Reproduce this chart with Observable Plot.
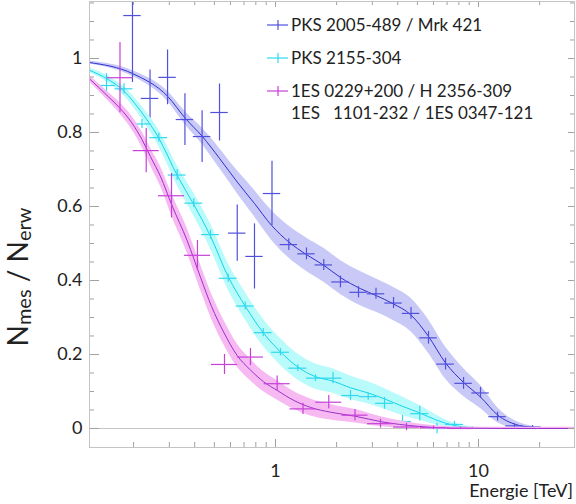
<!DOCTYPE html>
<html><head><meta charset="utf-8">
<script src="https://cdn.jsdelivr.net/npm/d3@7"></script>
<script src="https://cdn.jsdelivr.net/npm/@observablehq/plot@0.6"></script>
<style>body{margin:0;background:#fff} svg{display:block}</style>
</head><body><div id="chart"></div>
<script>
// ---- Data: PKS 2005-489 / Mrk 421 (blue) ----
const blueE   = [0.1975,0.241,0.294,0.358,0.435,0.530,0.648,0.788,0.961,1.163,1.421,1.729,2.089,2.564,3.126,3.814,4.651,5.671,6.88,8.44,10.23,12.41,15.04,18.45];
const blueV   = [1.116,0.892,0.949,0.835,0.789,0.854,0.528,0.465,0.635,0.497,0.472,0.442,0.396,0.368,0.364,0.339,0.311,0.245,0.174,0.122,0.096,0.032,0.007,0.004];
const blueErr = [0.181,0.077,0.074,0.070,0.070,0.077,0.076,0.088,0.087,0.016,0.016,0.015,0.016,0.015,0.015,0.015,0.016,0.017,0.016,0.016,0.015,0.012,0.006,0.004];
const blueFitE = [0.1213,0.198,0.295,0.360,0.435,0.530,0.648,0.788,0.956,1.163,1.42,1.73,2.09,2.62,3.14,3.80,4.62,5.65,6.88,8.42,10.23,12.5,15.2,18.4,20.5];
const blueFitV = [0.989,0.959,0.897,0.838,0.790,0.730,0.666,0.608,0.549,0.504,0.470,0.441,0.408,0.378,0.359,0.337,0.308,0.250,0.177,0.125,0.085,0.035,0.011,0.003,0.0];
const blueFitW = [0.004,0.008,0.014,0.018,0.022,0.027,0.031,0.036,0.040,0.043,0.045,0.046,0.046,0.046,0.045,0.045,0.045,0.045,0.043,0.038,0.031,0.020,0.009,0.003,0.0];

// ---- Data: PKS 2155-304 (cyan) ----
const cyanE   = [0.1471,0.1794,0.2200,0.2662,0.3279,0.3959,0.4784,0.5848,0.7090,0.8700,1.058,1.288,1.574,1.920,2.342,2.862,3.443,4.224,5.138,6.246,7.617,9.311];
const cyanV   = [0.927,0.918,0.823,0.786,0.685,0.609,0.524,0.406,0.331,0.259,0.206,0.163,0.136,0.136,0.089,0.086,0.068,0.019,0.040,0.000,0.011,0.001];
const cyanErr = [0.032,0.014,0.012,0.012,0.014,0.012,0.012,0.011,0.011,0.011,0.010,0.009,0.009,0.015,0.014,0.010,0.016,0.016,0.020,0.014,0.008,0.004];
const cyanFitE = [0.1213,0.147,0.179,0.220,0.266,0.328,0.396,0.478,0.585,0.709,0.870,1.058,1.288,1.574,1.92,2.34,2.86,3.44,4.22,5.14,6.25,7.62,9.31,12.0];
const cyanFitV = [0.968,0.946,0.912,0.853,0.785,0.684,0.605,0.520,0.410,0.331,0.259,0.207,0.166,0.140,0.128,0.110,0.096,0.080,0.060,0.042,0.022,0.008,0.002,0.0];
const cyanFitW = [0.006,0.009,0.012,0.017,0.022,0.027,0.031,0.034,0.036,0.037,0.037,0.036,0.035,0.034,0.033,0.032,0.030,0.028,0.025,0.020,0.013,0.006,0.002,0.0];

// ---- Data: 1ES 0229+200 / H 2356-309 / 1ES 1101-232 / 1ES 0347-121 (magenta) ----
const magE   = [0.1714,0.2308,0.3075,0.4127,0.5607,0.7529,1.019,1.366,1.830,2.464,3.290,4.419,6.002,8.152];
const magV   = [0.948,0.751,0.629,0.468,0.173,0.193,0.121,0.053,0.071,0.036,0.013,0.004,0.002,0.000];
const magErr = [0.095,0.060,0.060,0.040,0.027,0.023,0.021,0.015,0.018,0.015,0.012,0.010,0.005,0.003];
const magFitE = [0.1213,0.150,0.171,0.196,0.220,0.242,0.272,0.309,0.367,0.427,0.484,0.556,0.648,0.753,0.875,1.019,1.23,1.487,1.866,2.476,3.34,4.99,7.28,12.8,29.7];
const magFitV = [0.945,0.897,0.866,0.826,0.781,0.735,0.680,0.603,0.508,0.409,0.330,0.260,0.197,0.158,0.126,0.103,0.076,0.057,0.044,0.033,0.018,0.006,0.001,0.0,0.0];
const magFitW = [0.008,0.012,0.015,0.018,0.021,0.024,0.027,0.030,0.033,0.034,0.034,0.033,0.031,0.029,0.027,0.026,0.024,0.023,0.021,0.018,0.013,0.007,0.004,0.003,0.003];

// half bin widths (decades)
const binHalf = {blue: 0.043, cyan: 0.044, mag: 0.064};

// ---- Axis ticks ----
const xLabelTicks = [1, 10];
const xMinorTicks = [0.2,0.3,0.4,0.5,0.6,0.7,0.8,0.9,2,3,4,5,6,7,8,9,20];
const yLabelTicks = [0, 0.2, 0.4, 0.6, 0.8, 1];
const yMinorTicks = [0.05,0.1,0.15,0.25,0.3,0.35,0.45,0.5,0.55,0.65,0.7,0.75,0.85,0.9,0.95,1.05,1.1,1.15];

const legendLabels = ["PKS 2005-489 / Mrk 421", "PKS 2155-304", "1ES 0229+200 / H 2356-309", "1ES   1101-232 / 1ES 0347-121"];

const W = 576, H = 504, mL = 89, mR = 2, mT = 1, mB = 57;
const innerW = W - mL - mR, innerH = H - mT - mB;

const pts = (E, V, D, h) => E.map((e, i) => ({e, v: V[i], d: D[i], lo: e / 10 ** h, hi: e * 10 ** h}));
const fit = (E, V, Wd) => E.map((e, i) => ({e, v: V[i], lo: V[i] - Wd[i], hi: V[i] + Wd[i]}));

const series = [
  {p: pts(blueE, blueV, blueErr, binHalf.blue), c: fit(blueFitE, blueFitV, blueFitW), band: "#c9c9f7", line: "#2f2fcf", pt: "#5050dc"},
  {p: pts(cyanE, cyanV, cyanErr, binHalf.cyan), c: fit(cyanFitE, cyanFitV, cyanFitW), band: "#b9fafa", line: "#10d6ee", pt: "#30d8f0"},
  {p: pts(magE, magV, magErr, binHalf.mag), c: fit(magFitE, magFitV, magFitW), band: "#f7b9f1", line: "#9a30cc", pt: "#c640d8"}
];

const marks = [Plot.ruleY([0], {stroke: "#c4c4c4", strokeWidth: 1})];
for (const s of series) {
  marks.push(
    Plot.areaY(s.c, {x: "e", y1: "lo", y2: "hi", fill: s.band, curve: "monotone-x", clip: true}),
    Plot.line(s.c, {x: "e", y: "v", stroke: s.line, strokeWidth: 1, curve: "monotone-x", clip: true}),
    Plot.ruleX(s.p, {x: "e", y1: d => d.v - d.d, y2: d => d.v + d.d, stroke: s.pt, strokeWidth: 1.2, clip: true}),
    Plot.ruleY(s.p, {y: "v", x1: "lo", x2: "hi", stroke: s.pt, strokeWidth: 1.2, clip: true})
  );
}
const tc = "#a0a0a0";
marks.push(
  Plot.ruleX(xLabelTicks, {stroke: tc, insetTop: innerH - 8}),
  Plot.ruleX(xMinorTicks, {stroke: tc, insetTop: innerH - 5}),
  Plot.ruleX(xLabelTicks, {stroke: tc, insetBottom: innerH - 6}),
  Plot.ruleX(xMinorTicks, {stroke: tc, insetBottom: innerH - 4}),
  Plot.ruleY(yLabelTicks, {stroke: tc, insetRight: innerW - 10}),
  Plot.ruleY(yMinorTicks, {stroke: tc, insetRight: innerW - 5}),
  Plot.ruleY(yLabelTicks, {stroke: tc, insetLeft: innerW - 6}),
  Plot.ruleY(yMinorTicks, {stroke: tc, insetLeft: innerW - 4}),
  Plot.frame({stroke: "#c4c4c4"}),
  Plot.axisX({ticks: xLabelTicks, tickSize: 0, tickPadding: 17, tickFormat: d => String(d), label: null}),
  Plot.axisY({ticks: yLabelTicks, tickSize: 0, tickPadding: 7, tickFormat: d => String(d), label: null})
);

const chart = Plot.plot({
  width: W, height: H,
  marginLeft: mL, marginRight: mR, marginTop: mT, marginBottom: mB,
  x: {type: "log", domain: [0.1213, 29.7]},
  y: {domain: [-0.0514, 1.154]},
  style: {fontFamily: "Lato, sans-serif", fontSize: "18px", color: "#222", background: "#fff"},
  marks
});
document.getElementById("chart").append(chart);

const svg = d3.select(chart);
// y title
const t = svg.append("text")
  .attr("transform", "translate(28,277) rotate(-90)")
  .attr("text-anchor", "middle")
  .attr("fill", "#222")
  .style("font-family", "Lato, sans-serif")
  .style("font-size", "28px");
t.append("tspan").text("N");
t.append("tspan").attr("dy", 3).style("font-size", "20px").text("mes");
t.append("tspan").attr("dy", -3).text(" / N");
t.append("tspan").attr("dy", 3).style("font-size", "20px").text("erw");

// x title
svg.append("text").attr("x", 573).attr("y", 497).attr("text-anchor", "end")
  .attr("fill", "#222").style("font-family", "Lato, sans-serif").style("font-size", "18px")
  .text("Energie [TeV]");

// legend
const lg = svg.append("g").attr("text-anchor", "start");
const rowsY = [25, 58, 91, 113];
const legColors = [series[0].pt, series[1].pt, series[2].pt];
legColors.forEach((c, i) => {
  const y = rowsY[i];
  lg.append("line").attr("x1", 267).attr("x2", 288).attr("y1", y).attr("y2", y).attr("stroke", c).attr("stroke-width", 1.2);
  lg.append("line").attr("x1", 278).attr("x2", 278).attr("y1", y - 5).attr("y2", y + 5).attr("stroke", c).attr("stroke-width", 1.2);
});
legendLabels.forEach((l, i) => {
  lg.append("text").attr("x", 291).attr("y", rowsY[i]).attr("dy", "0.35em")
    .attr("text-anchor", "start")
    .attr("fill", "#222").style("font-family", "Lato, sans-serif").style("font-size", "17px")
    .style("white-space", "pre").attr("xml:space", "preserve").text(l);
});
</script></body></html>
